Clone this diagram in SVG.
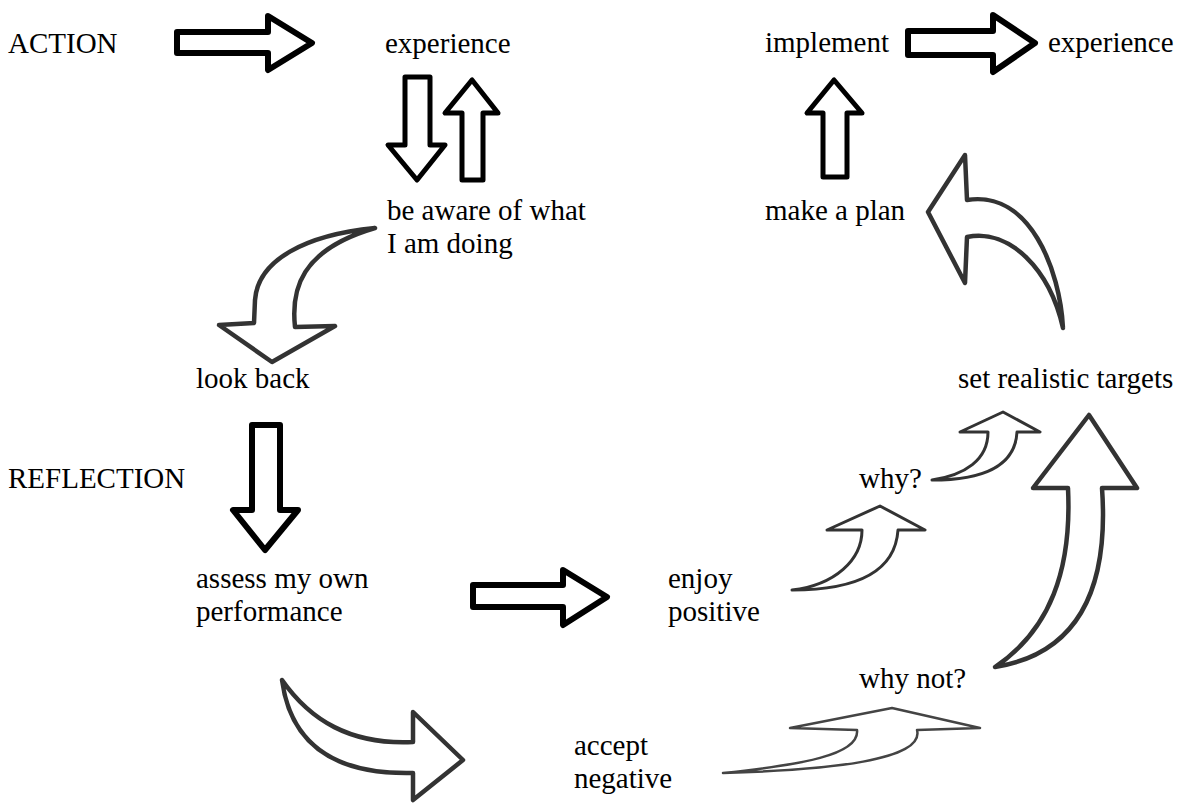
<svg xmlns="http://www.w3.org/2000/svg" width="1179" height="804" viewBox="0 0 1179 804">
<style>
text{font-family:"Liberation Serif","Times New Roman",serif;font-size:29px;fill:#000}
.blk{fill:#fff;stroke:#000;stroke-width:6;stroke-linejoin:round}
.blk5{fill:#fff;stroke:#000;stroke-width:5;stroke-linejoin:round}
.crv{fill:#fff;stroke:#333;stroke-width:4.5;stroke-linejoin:round}
.thin{fill:#fff;stroke:#333;stroke-width:3;stroke-linejoin:round}
.hair{fill:#fff;stroke:#444;stroke-width:2.5;stroke-linejoin:round}
</style>
<rect width="1179" height="804" fill="#fff"/>
<g id="connectors">
<polygon class="blk" points="177,32 268,32 268,16 312,43 268,70 268,53 177,53"/>
<polygon class="blk" points="908,31 993,31 993,15 1035,43 993,72 993,55 908,55"/>
<polygon class="blk5" points="405,77 430,77 430,145 445,145 417,180 388,145 405,145"/>
<polygon class="blk5" points="462,180 483,180 483,113 498,113 472,80 445,113 462,113"/>
<polygon class="blk5" points="823,177 847,177 847,113 862,113 834,80 807,113 823,113"/>
<polygon class="blk" points="252,425 280,425 280,510 298,510 265,550 233,510 252,510"/>
<polygon class="blk" points="473,585 563,585 563,570 607,597 563,625 563,607 473,607"/>
<path class="crv" d="M375,228 C305,235 258,260 255,300 L254,323 L219,325 L272,362 L335,326 L295,327 C291,290 300,250 375,228 Z"/>
<path class="crv" d="M1063,328 C1060,270 1030,190 967,200 L965,155 L928,212 L965,283 L967,237 C1010,228 1050,270 1063,328 Z"/>
<path class="thin" d="M792,590 C835,585 862,560 862,530 L827,530 L880,506 L925,530 L898,530 C895,575 850,590 792,590 Z"/>
<path class="thin" d="M932,480 C965,475 988,460 988,432 L960,432 L1003,412 L1040,432 L1017,432 C1015,470 975,480 932,480 Z"/>
<path class="crv" d="M995,667 C1050,630 1072,570 1068,488 L1033,488 L1089,415 L1137,488 L1102,488 C1110,600 1070,655 995,667 Z"/>
<path class="crv" d="M282,680 C310,720 350,745 413,742 L413,712 L463,760 L413,800 L413,773 C330,775 290,740 282,680 Z"/>
<path class="hair" d="M723,773 C800,765 860,755 857,730 L790,728 L892,708 L980,728 L917,730 C925,760 830,770 723,773 Z"/>
</g>
<g id="action"><text x="8" y="53">ACTION</text></g>
<g id="experience1"><text x="385" y="53">experience</text></g>
<g id="implement"><text x="765" y="52">implement</text></g>
<g id="experience2"><text x="1048" y="52">experience</text></g>
<g id="aware"><text x="387" y="220">be aware of what</text><text x="387" y="253">I am doing</text></g>
<g id="plan"><text x="765" y="220">make a plan</text></g>
<g id="lookback"><text x="196" y="388">look back</text></g>
<g id="targets"><text x="958" y="388">set realistic targets</text></g>
<g id="reflection"><text x="8" y="488">REFLECTION</text></g>
<g id="why"><text x="859" y="488">why?</text></g>
<g id="assess"><text x="196" y="588">assess my own</text><text x="196" y="621">performance</text></g>
<g id="enjoy"><text x="668" y="588">enjoy</text><text x="668" y="621">positive</text></g>
<g id="whynot"><text x="859" y="688">why not?</text></g>
<g id="accept"><text x="574" y="755">accept</text><text x="574" y="788">negative</text></g>
</svg>
